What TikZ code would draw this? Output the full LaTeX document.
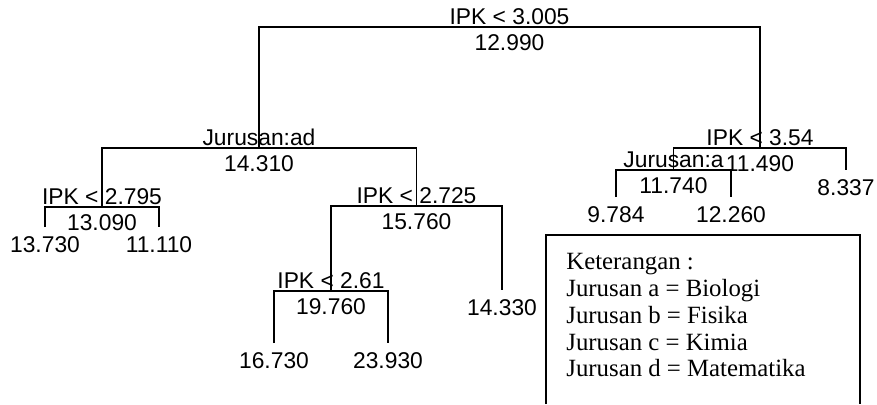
\documentclass[tikz,border=0pt]{standalone}
\usepackage{fontspec}
\setmainfont{Liberation Sans}
\newfontfamily\legendfont{Liberation Serif}
\usetikzlibrary{calc}

\tikzset{
  branch/.style={line width=0.8pt},
  splitlab/.style={anchor=base,inner sep=0pt,yshift=3pt*0.5},
  devlab/.style={anchor=north,inner sep=0pt,yshift=-7pt*0.5},
  leaflab/.style={anchor=north,inner sep=0pt,yshift=-9pt*0.5}
}

\begin{document}
\begin{tikzpicture}[x=0.5pt,y=-0.5pt,font=\fontsize{11.4}{13}\selectfont]
  \useasboundingbox (0,0) rectangle (877,404);

  % split nodes
  \coordinate (root) at (509.5,27);
  \coordinate (jurAD) at (259,148);
  \coordinate (ipkA) at (760,148);
  \coordinate (ipkB) at (102,207);
  \coordinate (ipkC) at (416.5,206);
  \coordinate (ipkD) at (331,291);
  \coordinate (jurA) at (673.5,170);
  % leaves
  \coordinate (leaf1) at (45,227);
  \coordinate (leaf2) at (159,227);
  \coordinate (leaf3) at (274,343);
  \coordinate (leaf4) at (388,343);
  \coordinate (leaf5) at (502,290);
  \coordinate (leaf6) at (616,197);
  \coordinate (leaf7) at (731,197);
  \coordinate (leaf8) at (846,170);

  % branches
  \draw[branch] (jurAD) |- (root) -| (ipkA);
  \draw[branch] (ipkB) |- (jurAD) -| (ipkC);
  \draw[branch] (leaf1) |- (ipkB) -| (leaf2);
  \draw[branch] (ipkD) |- (ipkC) -| (leaf5);
  \draw[branch] (leaf3) |- (ipkD) -| (leaf4);
  \draw[branch] (jurA) |- (ipkA) -| (leaf8);
  \draw[branch] (leaf6) |- (jurA) -| (leaf7);

  % split labels and deviances
  \foreach \n/\s/\d in {root/IPK < 3.005/12.990, jurAD/Jurusan:ad/14.310,
      ipkA/IPK < 3.54/11.490, ipkB/IPK < 2.795/13.090,
      ipkC/IPK < 2.725/15.760, ipkD/IPK < 2.61/19.760, jurA/Jurusan:a/11.740}
  {
    \node[splitlab] (\n-s) at (\n) {\s};
    \node[devlab] (\n-d) at (\n) {\d};
  }
  \foreach \n/\d in {leaf1/13.730, leaf2/11.110, leaf3/16.730, leaf4/23.930,
      leaf5/14.330, leaf6/9.784, leaf7/12.260, leaf8/8.337}
    \node[leaflab] (\n-d) at (\n) {\d};

  % legend
  \draw[line width=1pt] (546,404) -- (546,235) -- (860,235) -- (860,404);
  \node[anchor=north west,inner sep=0pt,align=left,
        font=\legendfont\fontsize{12.4}{13.4}\selectfont] (legend) at (566,253)
    {Keterangan :\\ Jurusan a = Biologi\\ Jurusan b = Fisika\\
     Jurusan c = Kimia\\ Jurusan d = Matematika};
\end{tikzpicture}
\end{document}
